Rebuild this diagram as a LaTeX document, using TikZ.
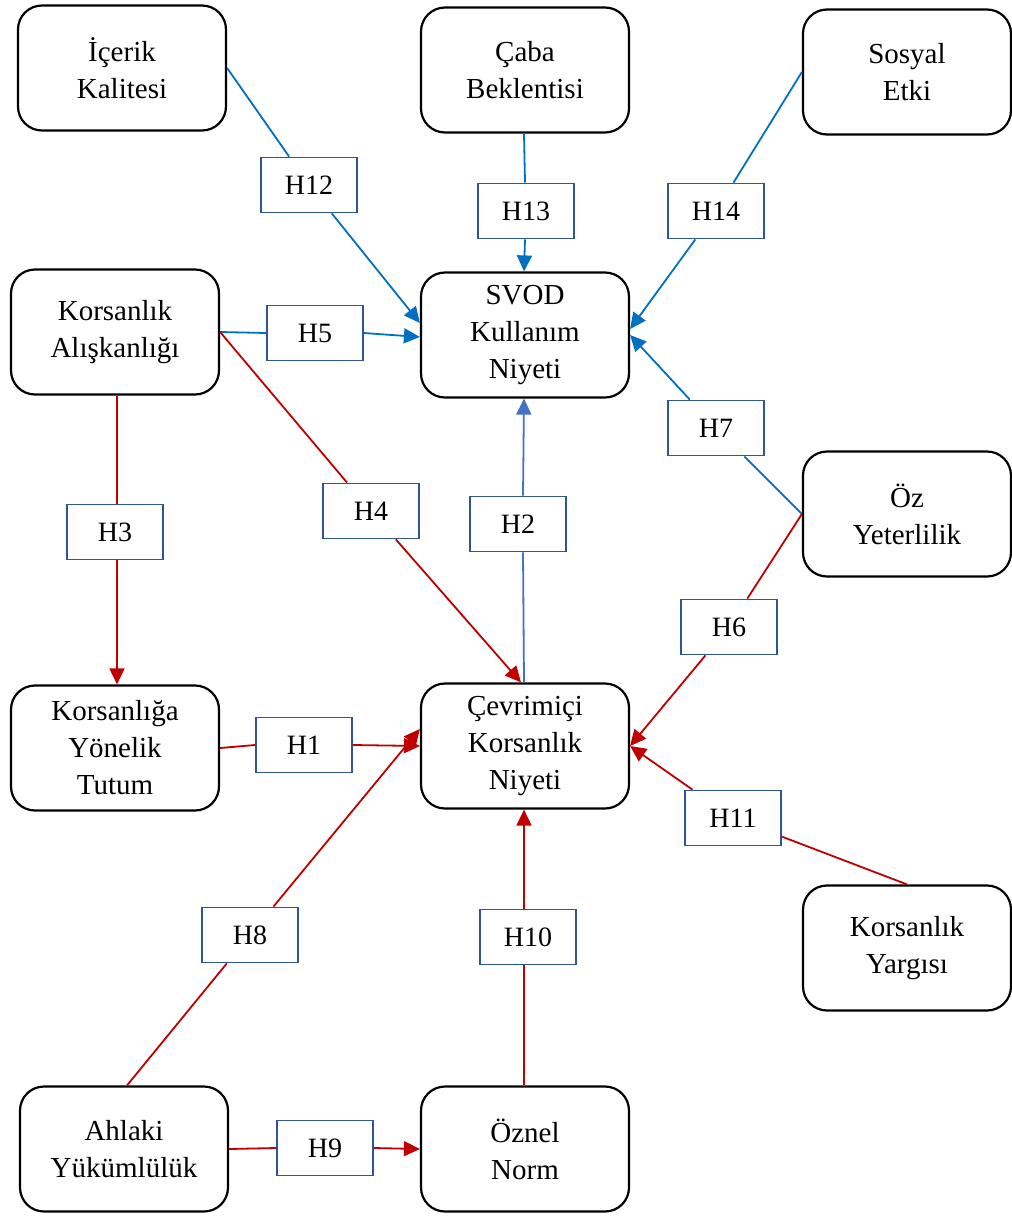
\documentclass[tikz,border=0pt]{standalone}
\usepackage{fontspec}
\setmainfont{Liberation Serif}
\usetikzlibrary{arrows.meta}
\definecolor{linkblue}{HTML}{0070C0}
\definecolor{linkblueb}{HTML}{4472C4}
\definecolor{linkred}{HTML}{C00000}
\definecolor{tagedge}{HTML}{2F5597}
\begin{document}
\begin{tikzpicture}[x=1pt,y=-1pt,
  construct/.style={draw=black, line width=2.2pt, rounded corners=24pt,
    minimum width=208pt, minimum height=125pt, align=center, inner sep=0pt,
    font=\fontsize{29}{37}\selectfont},
  hyp/.style={draw=tagedge, line width=1.8pt, fill=white,
    minimum width=96pt, minimum height=55pt, inner sep=0pt,
    font=\fontsize{28}{34}\selectfont},
  blueflow/.style={draw=linkblue, line width=1.8pt},
  redflow/.style={draw=linkred, line width=1.8pt},
  headed/.style={-{Triangle[length=16pt,width=15pt]}}
]
\useasboundingbox (0,0) rectangle (1012,1216);

% constructs
\node[construct] (icerik) at (122,68)   {İçerik\\Kalitesi};
\node[construct] (caba)   at (525,70)   {Çaba\\Beklentisi};
\node[construct] (sosyal) at (907,72)   {Sosyal\\Etki};
\node[construct] (aliskan) at (115,332) {Korsanlık\\Alışkanlığı};
\node[construct] (svod)   at (525,335)  {SVOD\\Kullanım\\Niyeti};
\node[construct] (oz)     at (907,514)  {Öz\\Yeterlilik};
\node[construct] (tutum)  at (115,748)  {Korsanlığa\\Yönelik\\Tutum};
\node[construct] (cev)    at (525,746)  {Çevrimiçi\\Korsanlık\\Niyeti};
\node[construct] (yargi)  at (907,948)  {Korsanlık\\Yargısı};
\node[construct] (ahlak)  at (124,1149) {Ahlaki\\Yükümlülük};
\node[construct] (oznel)  at (525,1149) {Öznel\\Norm};

% hypothesis tags
\node[hyp] (h12) at (309,185)  {H12};
\node[hyp] (h13) at (526,211)  {H13};
\node[hyp] (h14) at (716,211)  {H14};
\node[hyp] (h5)  at (315,333)  {H5};
\node[hyp] (h7)  at (716,428)  {H7};
\node[hyp] (h4)  at (371,511)  {H4};
\node[hyp] (h2)  at (518,524)  {H2};
\node[hyp] (h3)  at (115,532)  {H3};
\node[hyp] (h6)  at (729,627)  {H6};
\node[hyp] (h1)  at (304,745)  {H1};
\node[hyp] (h11) at (733,818)  {H11};
\node[hyp] (h8)  at (250,935)  {H8};
\node[hyp] (h10) at (528,937)  {H10};
\node[hyp] (h9)  at (325,1148) {H9};

% paths into SVOD usage intention
\draw[blueflow] (icerik.east) -- (h12);
\draw[blueflow,headed] (h12) -- ([yshift=12pt]svod.west);
\draw[blueflow] ([xshift=-1pt]caba.south) -- ([xshift=-1pt]h13.north);
\draw[blueflow,headed] ([xshift=-1pt]h13.south) -- ([xshift=-1pt]svod.north);
\draw[blueflow] (sosyal.west) -- (h14);
\draw[blueflow,headed] (h14) -- ([yshift=6pt]svod.east);
\draw[blueflow] (aliskan.east) -- (h5.west);
\draw[blueflow,headed] (h5.east) -- ([yshift=-2pt]svod.west);
\draw[blueflow] (oz.west) -- (h7);
\draw[blueflow,headed] (h7) -- (svod.east);
\draw[draw=linkblueb,line width=1.8pt] ([xshift=-1pt]cev.north) -- ([xshift=5pt]h2.south);
\draw[draw=linkblueb,line width=1.8pt,headed] ([xshift=5pt]h2.north) -- ([xshift=-1pt]svod.south);

% paths into online piracy intention
\draw[redflow] (aliskan.east) -- (h4);
\draw[redflow,headed] (h4) -- ([xshift=-4pt]cev.north);
\draw[redflow] ([xshift=2pt]aliskan.south) -- ([xshift=2pt]h3.north);
\draw[redflow,headed] ([xshift=2pt]h3.south) -- ([xshift=2pt]tutum.north);
\draw[redflow] (oz.west) -- (h6);
\draw[redflow,headed] (h6) -- (cev.east);
\draw[redflow] (tutum.east) -- (h1.west);
\draw[redflow,headed] (h1.east) -- (cev.west);
\draw[redflow] (yargi.north) -- (h11);
\draw[redflow,headed] (h11) -- (cev.east);
\draw[redflow] ([xshift=3pt]ahlak.north) -- (h8);
\draw[redflow,headed] (h8) -- ([yshift=17pt]cev.west);
\draw[redflow] ([xshift=-1pt]oznel.north) -- ([xshift=-4pt]h10.south);
\draw[redflow,headed] ([xshift=-4pt]h10.north) -- ([xshift=-1pt]cev.south);
\draw[redflow] (ahlak.east) -- (h9.west);
\draw[redflow,headed] (h9.east) -- (oznel.west);
\end{tikzpicture}
\end{document}
